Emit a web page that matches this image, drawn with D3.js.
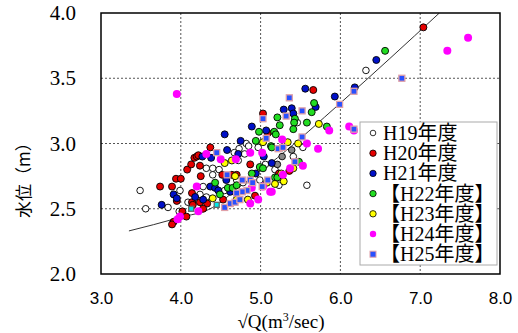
<!DOCTYPE html>
<html lang="ja">
<head>
<meta charset="UTF-8">
<title>水位 - √Q</title>
<script src="https://d3js.org/d3.v7.min.js"></script>
<style>
  body { margin: 0; background: #fff; }
</style>
</head>
<body>
<div id="chart"></div>
<script>
// data: [sqrtQ, water level]
const h19 = [[3.49,2.64],[3.56,2.50],[3.99,2.64],[3.84,2.51],[4.09,2.55],[3.98,2.48],[4.82,3.00],[4.85,2.98],
  [4.97,2.97],[4.73,2.96],[4.67,2.93],[4.32,2.81],[4.40,2.81],[4.48,2.80],[4.70,2.72],[4.78,2.70],[4.99,2.72],
  [4.28,2.67],[4.24,2.61],[5.06,2.84],[5.18,2.80],[5.46,3.16],[5.23,2.68],[5.53,2.97],[6.32,3.56],[5.58,2.68],
  [4.55,2.64],[4.15,2.54],[4.32,2.59],[4.72,2.87],[4.80,2.92],[4.40,2.76],[5.41,2.90]];
const h20 = [[3.74,2.67],[3.89,2.67],[3.94,2.73],[4.00,2.73],[4.08,2.80],[4.13,2.84],[4.17,2.89],[4.20,2.90],
  [3.95,2.56],[4.14,2.55],[4.15,2.53],[4.02,2.48],[4.07,2.44],[3.91,2.40],[3.89,2.38],[5.03,3.23],[4.37,2.97],
  [4.22,2.91],[4.24,2.83],[4.52,2.76],[4.64,2.76],[4.70,2.76],[5.66,3.41],[7.04,3.89],[4.25,2.75],[4.14,2.62],
  [4.24,2.55],[4.33,2.54],[4.28,2.50],[4.53,2.57],[4.87,2.84],[4.93,2.60],[5.09,3.08],[5.36,2.79],[5.23,2.77]];
const h21 = [[3.91,2.61],[3.95,2.58],[3.76,2.53],[4.18,2.59],[4.89,3.13],[5.07,3.10],[4.55,3.07],[4.75,3.02],
  [4.58,2.95],[4.38,2.89],[4.27,2.90],[4.72,2.92],[4.37,2.67],[4.43,2.66],[4.47,2.64],[4.28,2.57],[5.56,3.42],
  [5.93,3.36],[6.45,3.64],[6.18,3.43],[5.29,3.26],[5.39,3.27],[5.41,3.23],[5.69,3.28],[4.57,2.72],[4.62,2.63],
  [5.04,2.90],[5.14,2.85],[4.94,2.77]];
const h22 = [[4.98,3.09],[5.17,3.09],[4.94,3.02],[5.67,3.31],[5.64,3.24],[5.21,3.20],[5.24,3.14],[5.43,3.19],
  [5.42,3.16],[5.58,3.16],[5.41,3.11],[5.19,3.07],[5.83,3.13],[6.56,3.71],[5.13,2.98],[5.48,2.86],[5.18,2.74],
  [5.14,2.97],[4.43,2.70],[4.59,2.66],[4.65,2.66],[4.99,2.82],[5.03,2.81],[4.89,2.77],[4.70,2.68],[4.49,2.61],
  [5.21,2.74],[5.27,2.97]];
const h23 = [[5.03,3.01],[4.55,2.85],[4.64,2.87],[5.73,3.15],[5.47,3.00],[5.34,3.01],[5.26,2.77],[5.29,2.71],
  [5.18,2.69],[5.41,2.81],[4.40,2.58],[4.68,2.75],[4.70,2.57],[4.84,2.57],[5.08,2.70]];
const h24 = [[3.95,3.38],[4.20,2.67],[3.96,2.42],[4.22,2.48],[4.32,2.92],[4.50,2.88],[4.69,2.88],[5.02,2.93],
  [5.86,3.10],[6.11,3.13],[5.72,2.96],[5.58,3.00],[5.27,3.03],[5.53,2.83],[5.37,2.81],[5.28,2.76],[5.12,2.63],
  [7.34,3.71],[7.60,3.81],[4.87,2.54],[4.97,2.57],[4.89,2.66],[5.03,2.67],[5.14,2.63],[3.99,2.44],[6.17,3.10],
  [4.87,2.93]];
const h25 = [[5.03,3.19],[4.45,2.93],[4.58,2.76],[4.77,2.72],[4.87,2.72],[4.90,2.70],[5.09,2.72],[4.83,2.64],
  [4.77,2.63],[4.70,2.62],[4.55,2.51],[4.62,2.54],[4.68,2.55],[4.74,2.57],[5.36,3.35],[5.52,3.25],[5.32,3.21],
  [6.17,3.40],[5.99,3.30],[6.77,3.50],[6.17,3.11],[5.52,3.05],[5.07,3.04],[5.22,2.96],[5.28,2.97],[5.43,2.86],
  [5.02,2.67]];
const greyPts = [[5.27,2.90],[5.21,2.84],[5.39,2.95]];
const cyanPts = [[4.13,2.50],[4.45,2.53]];
// fitted curve
const curve = [[3.35,2.33],[3.97,2.43],[4.40,2.51],[4.74,2.67],[5.21,2.89],[6.00,3.31],[7.24,4.0]];

const xTicks = [3, 4, 5, 6, 7, 8];
const yTicks = [2.0, 2.5, 3.0, 3.5, 4.0];
const legendLabels = ['H19年度', 'H20年度', 'H21年度', '【H22年度】', '【H23年度】', '【H24年度】', '【H25年度】'];

const serif = '"Liberation Serif", "DejaVu Serif", "Noto Sans CJK JP", serif';
const sans = '"Liberation Sans", Arial, sans-serif';

const W = 518, H = 333;
const margin = { top: 13, right: 18, bottom: 59, left: 101 };
const width = W - margin.left - margin.right;
const height = H - margin.top - margin.bottom;

const x = d3.scaleLinear().domain([3, 8]).range([0, width]);
const y = d3.scaleLinear().domain([2, 4]).range([height, 0]);

const svg = d3.select('#chart').append('svg')
  .attr('width', W).attr('height', H);
const g = svg.append('g').attr('transform', `translate(${margin.left},${margin.top})`);

svg.append('defs').append('clipPath').attr('id', 'clip')
  .append('rect').attr('width', width).attr('height', height);

// grid
g.selectAll('.vgrid').data(xTicks.slice(1, -1)).join('line')
  .attr('x1', d => x(d)).attr('x2', d => x(d)).attr('y1', 0).attr('y2', height)
  .attr('stroke', '#555').attr('stroke-dasharray', '2,2').attr('stroke-width', 1);
g.selectAll('.hgrid').data(yTicks.slice(1, -1)).join('line')
  .attr('y1', d => y(d)).attr('y2', d => y(d)).attr('x1', 0).attr('x2', width)
  .attr('stroke', '#555').attr('stroke-dasharray', '2,2').attr('stroke-width', 1);

// axes (labels only)
const xAxis = g.append('g').attr('transform', `translate(0,${height})`)
  .call(d3.axisBottom(x).tickValues(xTicks).tickFormat(d3.format('.1f')).tickSize(0).tickPadding(18));
xAxis.select('.domain').remove();
xAxis.selectAll('text').attr('fill', '#000')
  .style('font-family', sans).style('font-size', '17px');

const yAxis = g.append('g')
  .call(d3.axisLeft(y).tickValues(yTicks).tickFormat(d3.format('.1f')).tickSize(0).tickPadding(25));
yAxis.select('.domain').remove();
yAxis.selectAll('text').attr('fill', '#000')
  .style('font-family', serif).style('font-size', '21px');

// fitted curve
g.append('path').datum(curve)
  .attr('clip-path', 'url(#clip)')
  .attr('fill', 'none').attr('stroke', '#333').attr('stroke-width', 1)
  .attr('d', d3.line().x(d => x(d[0])).y(d => y(d[1])).curve(d3.curveMonotoneX));

const pts = g.append('g').attr('clip-path', 'url(#clip)');
function circles(data, fill, stroke, r) {
  pts.append('g').selectAll('circle').data(data).join('circle')
    .attr('cx', d => x(d[0])).attr('cy', d => y(d[1])).attr('r', r)
    .attr('fill', fill).attr('stroke', stroke).attr('stroke-width', stroke === 'none' ? 0 : 0.9);
}
function squares(data, fill, stroke, s) {
  pts.append('g').selectAll('rect').data(data).join('rect')
    .attr('x', d => x(d[0]) - s / 2).attr('y', d => y(d[1]) - s / 2)
    .attr('width', s).attr('height', s)
    .attr('fill', fill).attr('stroke', stroke).attr('stroke-width', 1.3);
}
circles(h19, '#fff', '#000', 3.3);
circles(greyPts, '#888', '#000', 3.3);
circles(h20, '#e60000', '#000', 3.5);
circles(h21, '#0010c8', '#000', 3.5);
circles(h22, '#22dd22', '#000', 3.5);
circles(h23, '#ffff00', '#000', 3.5);
circles(h24, '#ff00ff', 'none', 4);
squares(h25, '#2850ff', '#e0a0a8', 6);
squares(cyanPts, '#00e8e8', '#666', 5);

// frame
g.append('rect').attr('width', width).attr('height', height)
  .attr('fill', 'none').attr('stroke', '#000').attr('stroke-width', 1.5);

// legend
const lg = svg.append('g').attr('transform', 'translate(360,122)');
lg.append('rect').attr('width', 137).attr('height', 143)
  .attr('fill', '#fff').attr('stroke', '#aaa').attr('stroke-width', 1);
const items = lg.selectAll('.item').data(legendLabels).join('g')
  .attr('transform', (d, i) => `translate(0,${11 + i * 20.2})`);
const symFill = ['#fff', '#e60000', '#0010c8', '#22dd22', '#ffff00', '#ff00ff'];
items.filter((d, i) => i < 6).append('circle')
  .attr('cx', 13).attr('cy', 0).attr('r', (d, i) => i === 0 ? 2.8 : 3.2)
  .attr('fill', (d, i) => symFill[i])
  .attr('stroke', (d, i) => i === 5 ? 'none' : '#000').attr('stroke-width', 0.8);
items.filter((d, i) => i === 6).append('rect')
  .attr('x', 10).attr('y', -3).attr('width', 6).attr('height', 6)
  .attr('fill', '#2850ff').attr('stroke', '#e0a0a8').attr('stroke-width', 1);
items.append('text')
  .attr('x', (d, i) => i < 3 ? 23 : 20).attr('y', 7)
  .style('font-family', serif).style('font-size', '20px')
  .text(d => d);

// axis titles
svg.append('text')
  .attr('transform', 'translate(22,176) rotate(-90)')
  .attr('text-anchor', 'middle').attr('dominant-baseline', 'central')
  .style('font-family', '"Noto Sans CJK JP", sans-serif').style('font-size', '17px')
  .text('水位（m）');
svg.append('text')
  .attr('x', 281).attr('y', 328).attr('text-anchor', 'middle')
  .style('font-family', serif).style('font-size', '19px')
  .html('√Q(m<tspan baseline-shift="super" font-size="12px">3</tspan>/sec)');
</script>
</body>
</html>
